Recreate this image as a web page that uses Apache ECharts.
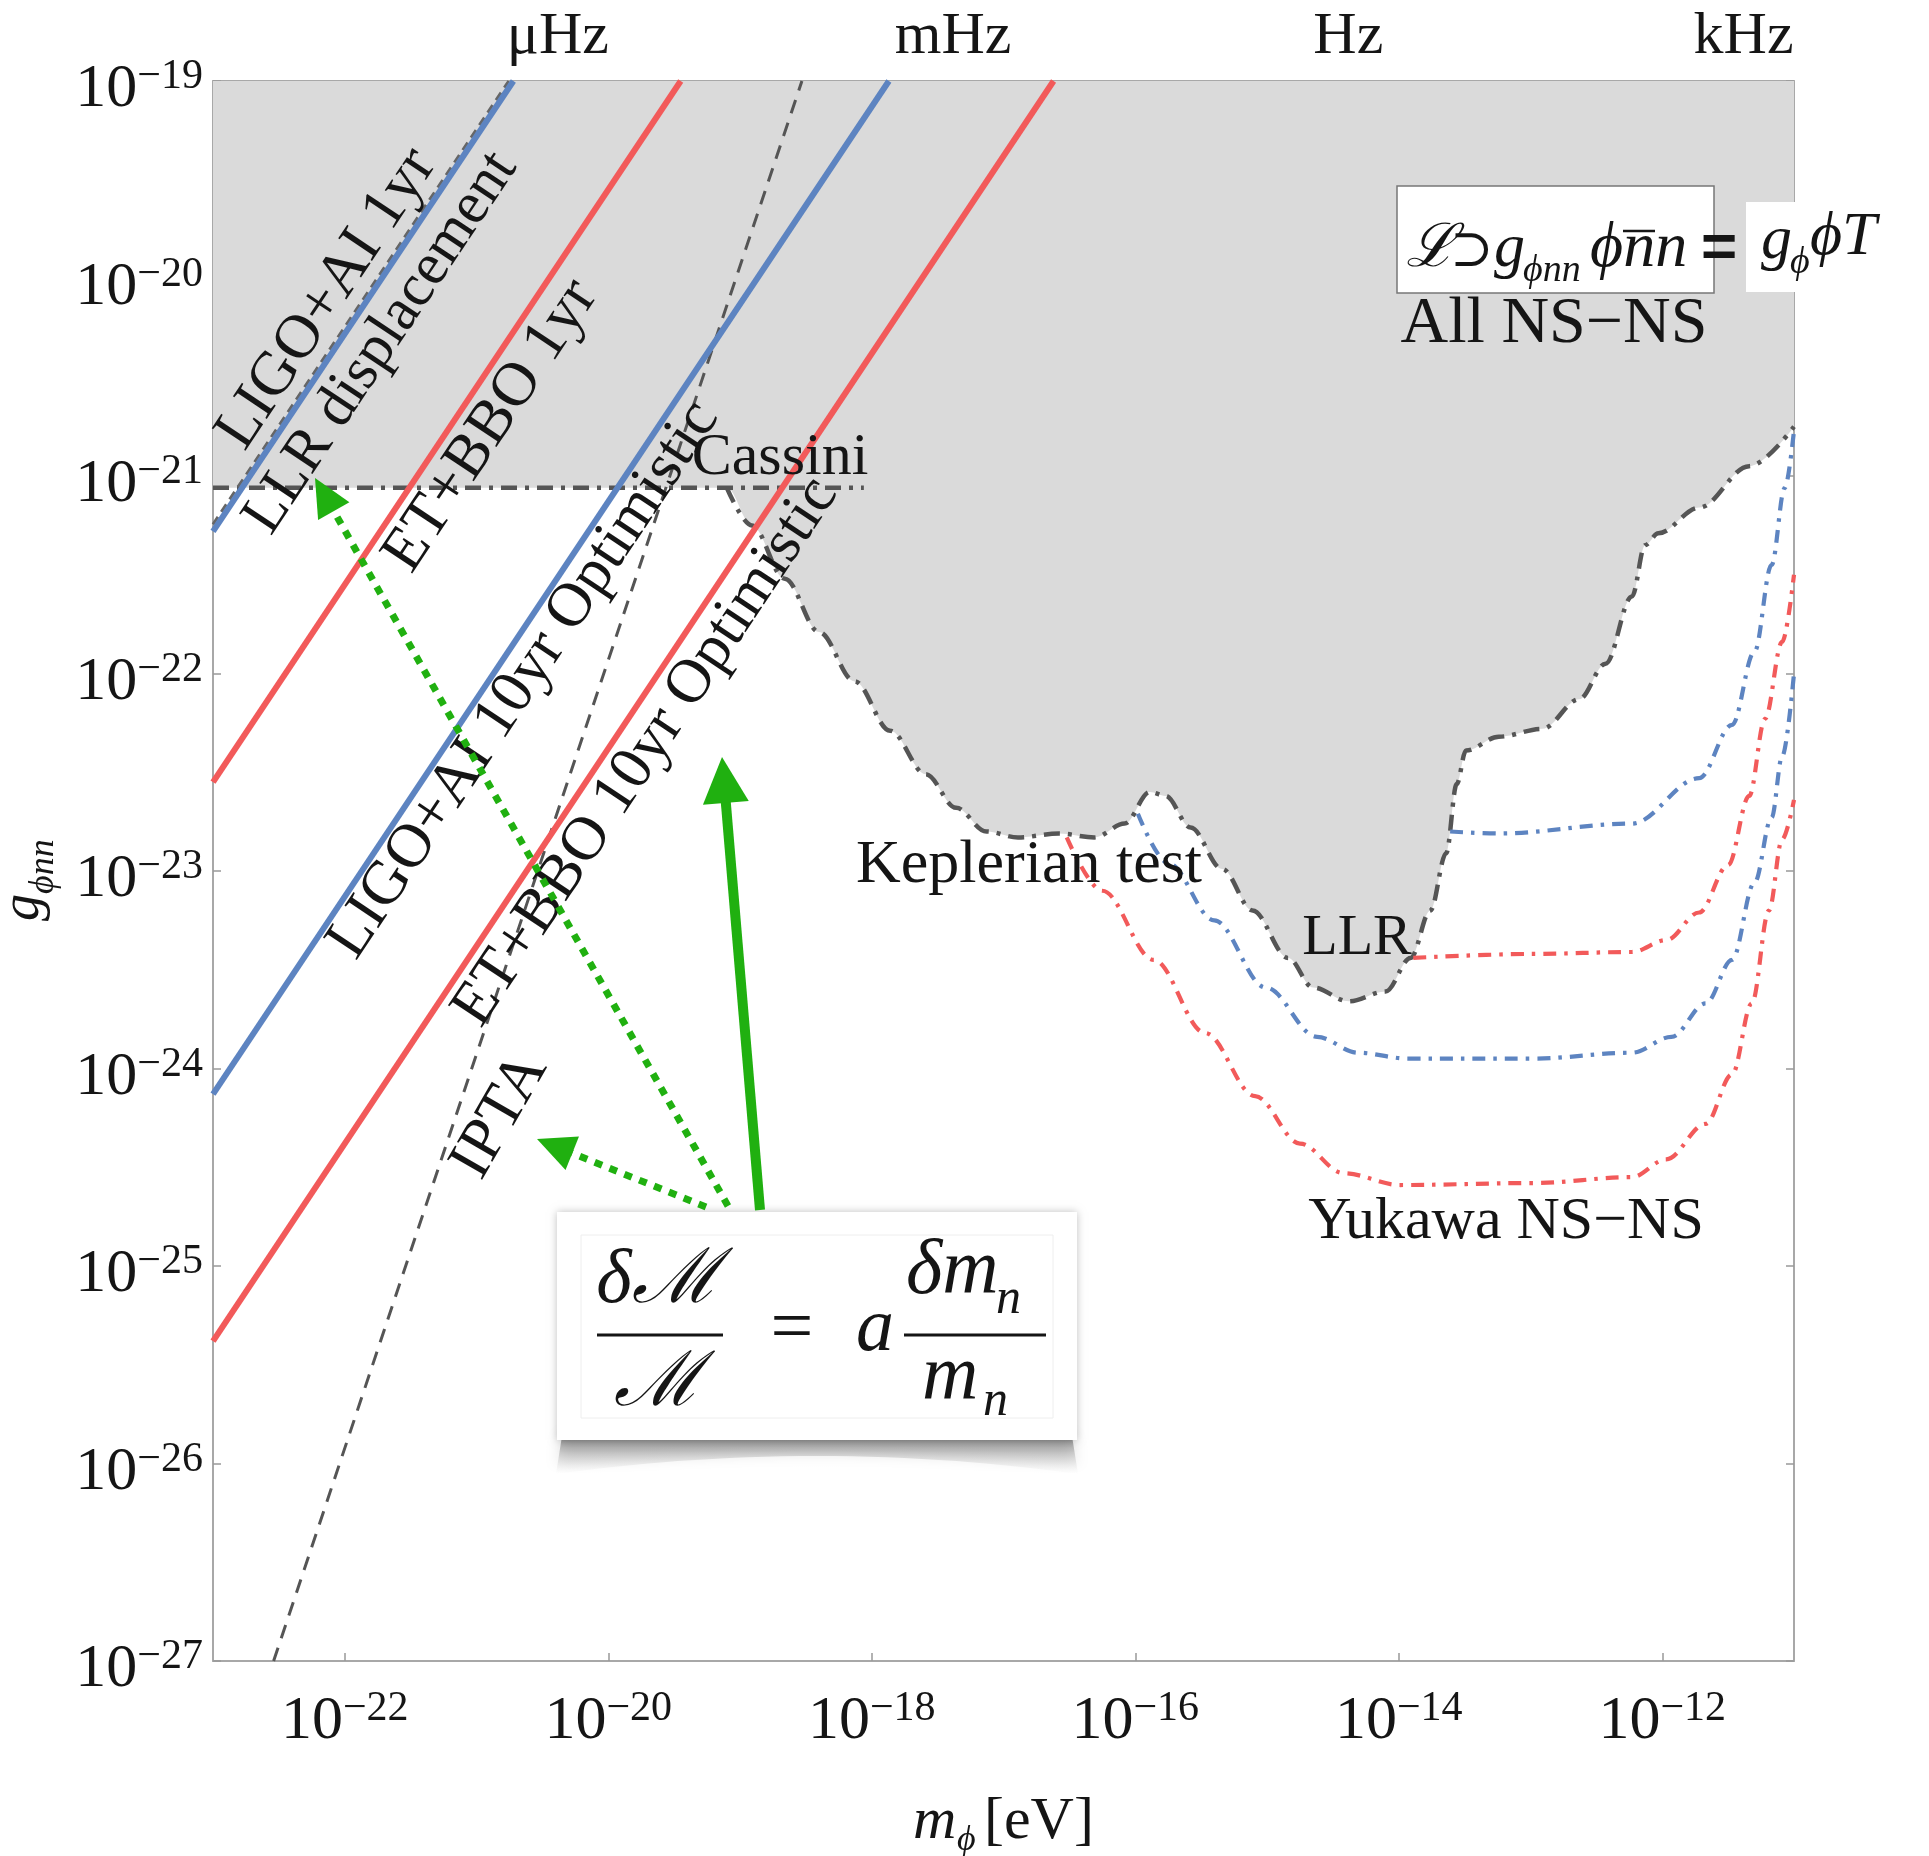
<!DOCTYPE html>
<html><head><meta charset="utf-8">
<script src="https://cdn.jsdelivr.net/npm/echarts@6/dist/echarts.min.js"></script>
<style>html,body{margin:0;padding:0;background:#fff}#c{width:1929px;height:1856px}</style>
</head><body><div id="c"></div>
<script>
// ---- data (log10 units: x = log10 m_phi[eV], y = log10 g_phinn) ----
const massRange = [-23, -11];
const couplingRange = [-27, -19];
const massTickExps = [-22, -20, -18, -16, -14, -12];
const freqTickNames = ['μHz', 'mHz', 'Hz', 'kHz'];
const freqTickExps = [-20.383, -17.383, -14.383, -11.383];

const ligo1yr = [[-23, -21.28], [-20.72, -19]];
const llrDisplacement = [[-23, -21.245], [-20.755, -19]];
const etbbo1yr = [[-23, -22.55], [-19.45, -19]];
const ligo10yrOpt = [[-23, -24.13], [-17.87, -19]];
const etbbo10yrOpt = [[-23, -25.38], [-16.62, -19]];
const ipta = [[-22.54, -27], [-18.53, -19]];
const cassini = [[-23, -21.06], [-18.06, -21.06]];

const allNSNS = [[-23, -21.06], [-19.1, -21.06], [-18.91, -21.25], [-18.66, -21.52], [-18.40, -21.79],
  [-18.13, -22.04], [-17.86, -22.29], [-17.59, -22.51], [-17.36, -22.68], [-17.13, -22.80], [-16.89, -22.83],
  [-16.58, -22.81], [-16.31, -22.83], [-16.08, -22.76], [-15.89, -22.60], [-15.77, -22.62], [-15.58, -22.78],
  [-15.34, -22.99], [-15.11, -23.20], [-14.84, -23.44], [-14.65, -23.59], [-14.38, -23.66], [-14.10, -23.61],
  [-13.91, -23.44], [-13.76, -23.20], [-13.64, -22.91], [-13.56, -22.56], [-13.49, -22.39], [-13.24, -22.32],
  [-12.91, -22.28], [-12.63, -22.13], [-12.43, -21.95], [-12.23, -21.61], [-12.13, -21.35], [-12.03, -21.29],
  [-11.72, -21.16], [-11.34, -20.95], [-11.0, -20.75]];

const yukawaRedLower = [[-16.52, -22.83], [-16.25, -23.10], [-15.86, -23.45], [-15.47, -23.82], [-15.09, -24.14],
  [-14.75, -24.38], [-14.42, -24.53], [-13.99, -24.59], [-12.98, -24.58], [-12.23, -24.55], [-11.97, -24.46],
  [-11.67, -24.28], [-11.47, -24.03], [-11.32, -23.67], [-11.19, -23.20], [-11.09, -22.84], [-11.0, -22.64]];
const yukawaBlueLower = [[-15.98, -22.71], [-15.75, -22.96], [-15.40, -23.25], [-15.01, -23.59], [-14.62, -23.84],
  [-14.31, -23.92], [-13.93, -23.95], [-12.98, -23.95], [-12.23, -23.92], [-11.93, -23.84], [-11.67, -23.67],
  [-11.47, -23.45], [-11.30, -23.06], [-11.17, -22.73], [-11.09, -22.42], [-11.0, -22.0]];
const yukawaRedUpper = [[-13.89, -23.44], [-12.98, -23.42], [-12.23, -23.41], [-11.97, -23.35], [-11.72, -23.21],
  [-11.50, -22.97], [-11.34, -22.62], [-11.22, -22.23], [-11.09, -21.84], [-11.0, -21.50]];
const yukawaBlueUpper = [[-13.61, -22.80], [-13.24, -22.81], [-12.23, -22.76], [-11.72, -22.53], [-11.47, -22.26],
  [-11.30, -21.89], [-11.17, -21.45], [-11.07, -21.06], [-11.0, -20.77]];

// ---- styling ----
const FONT = '"Liberation Serif", "DejaVu Serif", serif';
const BLUE = '#5d84c1', RED = '#f25a5a', GRAY = '#555555', GREEN = '#20b010', INK = '#151515';
const AXC = '#a8a8a8';

const chart = echarts.init(document.getElementById('c'), null, {renderer: 'canvas'});

function solid(name, data, color) {
  return {name, type: 'line', data, symbol: 'none', z: 4, lineStyle: {color, width: 6}};
}
function dashdot(name, data, color) {
  return {name, type: 'line', data, symbol: 'none', z: 3, smooth: 0.35, smoothMonotone: 'x',
    lineStyle: {color, width: 4.2, type: [13, 8, 3.5, 8]}};
}
const supRich = {
  b: {fontSize: 62, fontFamily: FONT, lineHeight: 68, color: INK},
  s: {fontSize: 42, fontFamily: FONT, lineHeight: 40, verticalAlign: 'top', color: INK}
};
const expFmt = v => '{b|10}{s|−' + Math.abs(Math.round(v)) + '}';

function txt(x, y, text, fs, o) {
  o = o || {};
  return {type: 'text', x, y, rotation: o.rot || 0, z: o.z || 110,
    style: {text, fill: INK, font: (o.it ? 'italic ' : '') + (o.bold ? 'bold ' : '') + fs + 'px ' + (o.family || FONT),
      textAlign: o.align || 'center', textVerticalAlign: 'middle', align: o.align || 'center', verticalAlign: 'middle'}};
}
function btxt(x, base, text, fs, o) { return txt(x, base - 0.33 * fs, text, fs, o); }

function arrow(x1, y1, x2, y2, w, dash, hl, hw) {
  const dx = x2 - x1, dy = y2 - y1, L = Math.hypot(dx, dy), ux = dx / L, uy = dy / L;
  const bx = x2 - ux * hl, by = y2 - uy * hl;
  const px = -uy, py = ux;
  return [
    {type: 'line', z: 120, shape: {x1, y1, x2: bx + ux * 2, y2: by + uy * 2},
      style: {stroke: GREEN, lineWidth: w, lineDash: dash || null, lineCap: 'butt'}},
    {type: 'polygon', z: 121, shape: {points: [[x2, y2], [bx + px * hw / 2, by + py * hw / 2], [bx - px * hw / 2, by - py * hw / 2]]},
      style: {fill: GREEN}}
  ];
}
function shadowPts() {
  const pts = [[562, 1436], [1072, 1436]];
  const p0 = [1078, 1474], c = [817, 1438], p2 = [556, 1474];
  for (let i = 0; i <= 30; i++) {
    const t = i / 30;
    pts.push([(1 - t) * (1 - t) * p0[0] + 2 * t * (1 - t) * c[0] + t * t * p2[0],
              (1 - t) * (1 - t) * p0[1] + 2 * t * (1 - t) * c[1] + t * t * p2[1]]);
  }
  return pts;
}

const ROT = 56.3 * Math.PI / 180;
const PHI = 'ϕ';
const graphics = [
  txt(327, 299, 'LIGO+AI 1yr', 62, {rot: ROT}),
  txt(381, 343, 'LLR displacement', 60, {rot: ROT}),
  txt(491, 426, 'ET+BBO 1yr', 62, {rot: ROT}),
  txt(524, 680, 'LIGO+AI 10yr Optimistic', 62, {rot: ROT}),
  txt(646, 752, 'ET+BBO 10yr Optimistic', 62, {rot: ROT}),
  txt(500, 1116, 'IPTA', 62, {rot: 60 * Math.PI / 180}),
  txt(780, 458, 'Cassini', 60),
  txt(1029, 866, 'Keplerian test', 62),
  txt(1357, 939, 'LLR', 58),
  txt(1506, 1222, 'Yukawa NS−NS', 60),
  txt(1554, 325, 'All NS−NS', 66),
  {type: 'rect', z: 105, shape: {x: 1397, y: 186, width: 317, height: 107}, style: {fill: '#fff', stroke: '#777', lineWidth: 1.5}},
  {type: 'rect', z: 105, shape: {x: 1746, y: 202, width: 190, height: 90}, style: {fill: '#fff'}},
  btxt(1406, 270, 'ℒ', 60, {align: 'left', it: true}),
  btxt(1450, 270, '⊃', 52, {align: 'left'}),
  btxt(1494, 270, 'g', 62, {align: 'left', it: true}),
  btxt(1523, 284, PHI + 'nn', 38, {align: 'left', it: true}),
  btxt(1590, 270, PHI + 'nn', 64, {align: 'left', it: true}),
  {type: 'line', z: 111, shape: {x1: 1623, y1: 231, x2: 1655, y2: 231}, style: {stroke: INK, lineWidth: 2.5}},
  btxt(1719, 270, '=', 62, {bold: true, family: '"Liberation Sans", sans-serif'}),
  btxt(1761, 262, 'g', 62, {align: 'left', it: true}),
  btxt(1790, 276, PHI, 38, {align: 'left', it: true}),
  btxt(1810, 258, PHI + 'T', 62, {align: 'left', it: true}),
  {type: 'group', x: 42, y: 921, rotation: Math.PI / 2, z: 110, children: [
    btxt(0, 0, 'g', 54, {align: 'left', it: true}),
    btxt(27, 13, PHI + 'nn', 36, {align: 'left', it: true})
  ]},
  btxt(913, 1842, 'm', 60, {align: 'left', it: true}),
  btxt(957, 1852, PHI, 36, {align: 'left', it: true}),
  btxt(984, 1842, '[eV]', 60, {align: 'left'}),
  {type: 'polygon', z: 100, shape: {points: shadowPts()},
    style: {fill: {type: 'linear', x: 0, y: 0, x2: 0, y2: 1, colorStops: [{offset: 0, color: 'rgba(70,70,70,0.6)'}, {offset: 1, color: 'rgba(190,190,190,0.0)'}]},
      shadowBlur: 14, shadowColor: 'rgba(0,0,0,0.3)'}},
  {type: 'rect', z: 101, shape: {x: 557, y: 1212, width: 520, height: 228},
    style: {fill: '#fff', shadowBlur: 8, shadowColor: 'rgba(0,0,0,0.25)'}},
  {type: 'rect', z: 102, shape: {x: 581, y: 1235, width: 472, height: 183}, style: {fill: 'none', stroke: '#eeeeee', lineWidth: 1}},
  btxt(658, 1307, 'δℳ', 76, {it: true, z: 112}),
  {type: 'line', z: 112, shape: {x1: 597, y1: 1335, x2: 723, y2: 1335}, style: {stroke: INK, lineWidth: 3}},
  btxt(658, 1410, 'ℳ', 76, {it: true, z: 112}),
  btxt(792, 1356, '=', 76, {z: 112}),
  btxt(875, 1355, 'a', 76, {it: true, z: 112}),
  {type: 'line', z: 112, shape: {x1: 904, y1: 1335, x2: 1046, y2: 1335}, style: {stroke: INK, lineWidth: 3}},
  btxt(906, 1298, 'δm', 78, {it: true, align: 'left', z: 112}),
  btxt(996, 1316, 'n', 50, {it: true, align: 'left', z: 112}),
  btxt(922, 1404, 'm', 78, {it: true, align: 'left', z: 112}),
  btxt(983, 1418, 'n', 50, {it: true, align: 'left', z: 112}),
  ...arrow(760, 1210, 722, 757, 10, null, 46, 46),
  ...arrow(728, 1206, 315, 478, 7, [8, 8], 38, 36),
  ...arrow(706, 1207, 537, 1139, 7, [8, 8], 38, 36)
];

const option = {
  animation: false,
  backgroundColor: '#fff',
  grid: {left: 213, top: 81, width: 1581, height: 1580, show: false},
  xAxis: [
    {type: 'value', min: massRange[0], max: massRange[1], position: 'bottom',
      axisLine: {show: true, onZero: false, lineStyle: {color: AXC, width: 2}},
      axisTick: {show: true, inside: true, length: 8, customValues: massTickExps, lineStyle: {color: '#999', width: 1.5}},
      axisLabel: {customValues: massTickExps, margin: 27, formatter: expFmt, rich: supRich},
      splitLine: {show: false}},
    {type: 'value', min: massRange[0], max: massRange[1], position: 'top',
      axisLine: {show: true, onZero: false, lineStyle: {color: AXC, width: 2}},
      axisTick: {show: true, inside: true, length: 8, customValues: freqTickExps, lineStyle: {color: '#999', width: 1.5}},
      axisLabel: {customValues: freqTickExps, margin: 14, fontSize: 60, fontFamily: FONT, color: INK,
        formatter: v => {
          let best = 0;
          freqTickExps.forEach((f, i) => { if (Math.abs(f - v) < Math.abs(freqTickExps[best] - v)) best = i; });
          return freqTickNames[best];
        }},
      splitLine: {show: false}}
  ],
  yAxis: [
    {type: 'value', min: couplingRange[0], max: couplingRange[1], interval: 1, position: 'left',
      axisLine: {show: true, onZero: false, lineStyle: {color: AXC, width: 2}},
      axisTick: {show: true, inside: true, length: 8, lineStyle: {color: '#999', width: 1.5}},
      axisLabel: {margin: 10, formatter: expFmt, rich: supRich, padding: [18, 0, 0, 0]},
      splitLine: {show: false}},
    {type: 'value', min: couplingRange[0], max: couplingRange[1], interval: 1, position: 'right',
      axisLine: {show: true, onZero: false, lineStyle: {color: AXC, width: 2}},
      axisTick: {show: true, inside: true, length: 8, lineStyle: {color: '#999', width: 1.5}},
      axisLabel: {show: false}, splitLine: {show: false}}
  ],
  series: [
    {name: 'All NS-NS', type: 'line', data: allNSNS, symbol: 'none', z: 1, smooth: 0.35, smoothMonotone: 'x',
      lineStyle: {width: 0, opacity: 0}, areaStyle: {origin: 'end', color: '#dadada', opacity: 1}},
    {name: 'All NS-NS boundary', type: 'line', data: allNSNS.filter(p => p[0] >= -19.1), symbol: 'none', z: 2,
      smooth: 0.35, smoothMonotone: 'x', lineStyle: {color: GRAY, width: 4.5, type: [16, 8, 4, 8]}},
    {name: 'Cassini', type: 'line', data: cassini, symbol: 'none', z: 2, lineStyle: {color: GRAY, width: 4.5, type: [16, 8, 4, 8]}},
    dashdot('Yukawa red lower', yukawaRedLower, RED),
    dashdot('Yukawa blue lower', yukawaBlueLower, BLUE),
    dashdot('Yukawa red upper', yukawaRedUpper, RED),
    dashdot('Yukawa blue upper', yukawaBlueUpper, BLUE),
    {name: 'IPTA', type: 'line', data: ipta, symbol: 'none', z: 3, lineStyle: {color: GRAY, width: 3, type: [14, 10]}},
    {name: 'LLR displacement', type: 'line', data: llrDisplacement, symbol: 'none', z: 3, lineStyle: {color: '#666', width: 3, type: [9, 6]}},
    solid('LIGO+AI 1yr', ligo1yr, BLUE),
    solid('ET+BBO 1yr', etbbo1yr, RED),
    solid('LIGO+AI 10yr Optimistic', ligo10yrOpt, BLUE),
    solid('ET+BBO 10yr Optimistic', etbbo10yrOpt, RED)
  ],
  graphic: graphics
};
chart.setOption(option);
</script></body></html>
